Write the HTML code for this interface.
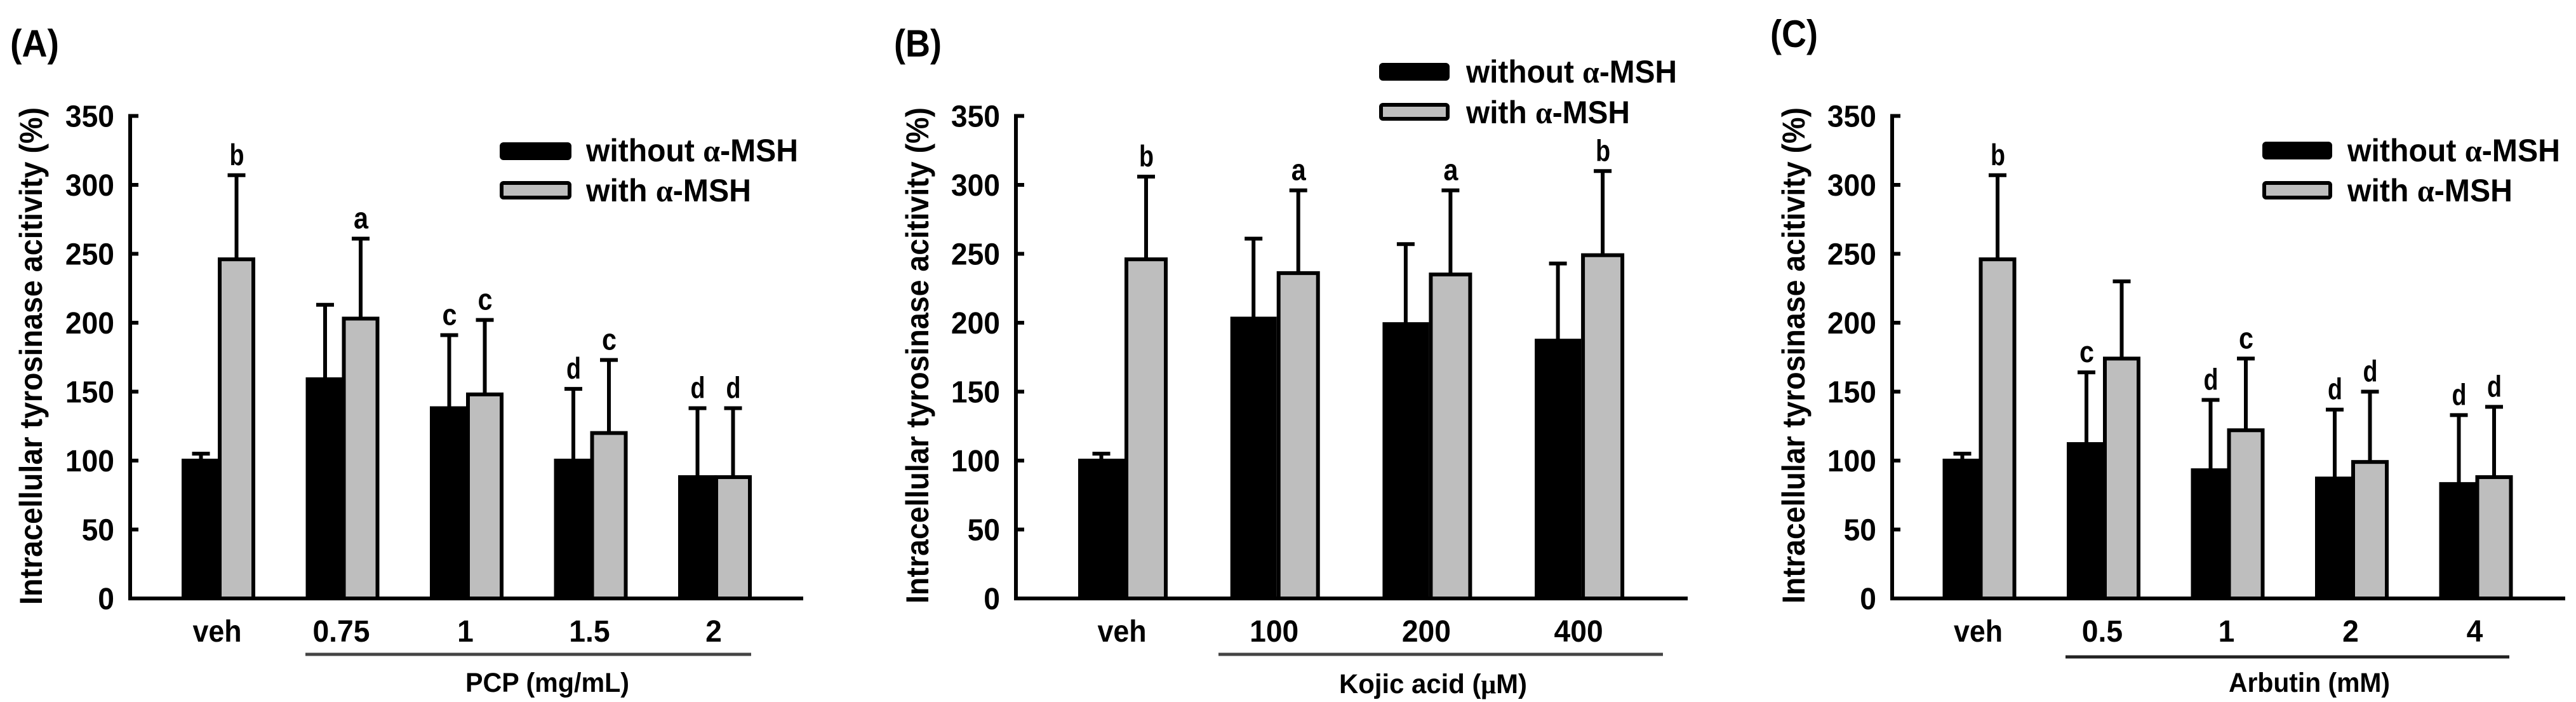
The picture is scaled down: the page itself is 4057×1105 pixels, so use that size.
<!DOCTYPE html>
<html lang="en">
<head>
<meta charset="utf-8">
<title>Intracellular tyrosinase activity panels</title>
<style>
html,body{margin:0;padding:0;background:#fff;width:4057px;height:1105px;overflow:hidden}
svg{display:block}
text{font-family:"Liberation Sans",sans-serif;font-weight:bold;fill:#000}
.serif{font-family:"Liberation Serif",serif}
.leg{font-size:50px}
.ttl{font-size:50px}
.grp{font-size:43px}
.pnl{font-size:60px}
</style>
</head>
<body>
<svg id="figure" xmlns="http://www.w3.org/2000/svg" width="4057" height="1105" viewBox="0 0 4057 1105">

<g id="panel-a">
  <text class="pnl" x="16" y="89" textLength="77" lengthAdjust="spacingAndGlyphs">(A)</text>
  <text class="ttl" transform="translate(66,952) rotate(-90)" textLength="783" lengthAdjust="spacingAndGlyphs">Intracellular tyrosinase acitivity (%)</text>
  <rect x="790" y="227" width="107" height="22" rx="3" fill="#000" stroke="#000" stroke-width="6"/>
  <rect x="790" y="288" width="107" height="23" rx="3" fill="#bebebe" stroke="#000" stroke-width="6"/>
  <text class="leg" x="923" y="254" textLength="334" lengthAdjust="spacingAndGlyphs">without <tspan class="serif">α</tspan>-MSH</text>
  <text class="leg" x="923" y="317" textLength="260" lengthAdjust="spacingAndGlyphs">with <tspan class="serif">α</tspan>-MSH</text>
  <rect x="481" y="1027.5" width="702" height="5" fill="#444"/>
  <text class="grp" x="733" y="1089" textLength="258" lengthAdjust="spacingAndGlyphs">PCP (mg/mL)</text>
</g>

<g id="panel-b">
  <text class="pnl" x="1408" y="89" textLength="75" lengthAdjust="spacingAndGlyphs">(B)</text>
  <text class="ttl" transform="translate(1462,950) rotate(-90)" textLength="781" lengthAdjust="spacingAndGlyphs">Intracellular tyrosinase acitivity (%)</text>
  <rect x="2175" y="102" width="105" height="22" rx="3" fill="#000" stroke="#000" stroke-width="6"/>
  <rect x="2175" y="165" width="105" height="22" rx="3" fill="#bebebe" stroke="#000" stroke-width="6"/>
  <text class="leg" x="2309" y="130" textLength="332" lengthAdjust="spacingAndGlyphs">without <tspan class="serif">α</tspan>-MSH</text>
  <text class="leg" x="2309" y="194" textLength="258" lengthAdjust="spacingAndGlyphs">with <tspan class="serif">α</tspan>-MSH</text>
  <rect x="1919" y="1027.5" width="700" height="5" fill="#444"/>
  <text class="grp" x="2109" y="1091" textLength="296" lengthAdjust="spacingAndGlyphs">Kojic acid (<tspan class="serif">μ</tspan>M)</text>
</g>

<g id="panel-c">
  <text class="pnl" x="2788" y="74" textLength="75" lengthAdjust="spacingAndGlyphs">(C)</text>
  <text class="ttl" transform="translate(2842,950) rotate(-90)" textLength="781" lengthAdjust="spacingAndGlyphs">Intracellular tyrosinase acitivity (%)</text>
  <rect x="3566" y="226" width="104" height="22" rx="3" fill="#000" stroke="#000" stroke-width="6"/>
  <rect x="3566" y="288" width="104" height="23" rx="3" fill="#bebebe" stroke="#000" stroke-width="6"/>
  <text class="leg" x="3697" y="254" textLength="335" lengthAdjust="spacingAndGlyphs">without <tspan class="serif">α</tspan>-MSH</text>
  <text class="leg" x="3697" y="317" textLength="260" lengthAdjust="spacingAndGlyphs">with <tspan class="serif">α</tspan>-MSH</text>
  <rect x="3253" y="1031.5" width="699" height="5" fill="#222"/>
  <text class="grp" x="3510" y="1089" textLength="254" lengthAdjust="spacingAndGlyphs">Arbutin (mM)</text>
</g>
</svg>

<script>
const yTicks = [0, 50, 100, 150, 200, 250, 300, 350];

const aCategories = ['veh', '0.75', '1', '1.5', '2'];
const aWithout = [100, 159, 138, 100, 88];
const aWith = [246, 203, 148, 120, 88];
const aWithoutErr = [105, 213, 191, 152, 138];
const aWithErr = [307, 261, 202, 173, 138];
const aWithoutLetters = ['', '', 'c', 'd', 'd'];
const aWithLetters = ['b', 'a', 'c', 'c', 'd'];

const bCategories = ['veh', '100', '200', '400'];
const bWithout = [100, 203, 199, 187];
const bWith = [246, 236, 235, 249];
const bWithoutErr = [105, 261, 257, 243];
const bWithErr = [306, 296, 296, 310];
const bWithoutLetters = ['', '', '', ''];
const bWithLetters = ['b', 'a', 'a', 'b'];

const cCategories = ['veh', '0.5', '1', '2', '4'];
const cWithout = [100, 112, 93, 87, 83];
const cWith = [246, 174, 122, 99, 88];
const cWithoutErr = [105, 164, 144, 137, 133];
const cWithErr = [307, 230, 174, 150, 139];
const cWithoutLetters = ['', 'c', 'd', 'd', 'd'];
const cWithLetters = ['b', '', 'c', 'd', 'd'];

const NS = 'http://www.w3.org/2000/svg';
const Y_ZERO = 942;
const PX_PER_UNIT = 2.17;

function yScale(v) {
  return Y_ZERO - v * PX_PER_UNIT;
}

function labelWidth(s) {
  let w = 0;
  for (const ch of s) w += ch === '.' ? 13 : 25.7;
  return w;
}

function make(parent, tag, attrs) {
  const el = document.createElementNS(NS, tag);
  for (const k in attrs) el.setAttribute(k, attrs[k]);
  parent.appendChild(el);
  return el;
}

function drawPanel(id, frame, categories, without, withMsh, withoutErr, withErr, withoutLetters, withLetters) {
  const root = document.getElementById(id);
  const xScale = function (i) { return frame.c0 + i * frame.step; };

  categories.forEach(function (cat, i) {
    const c = xScale(i);
    const bx = c + frame.bl + 3;
    const bw = frame.bm - frame.bl - 6;
    const gx = c + frame.gl + 3;
    const gw = frame.gr - frame.gl - 6;
    const bc = bx + bw / 2;
    const gc = gx + gw / 2;

    const e1 = make(root, 'path', {d: 'M' + bc + ' ' + yScale(without[i]) + 'V' + yScale(withoutErr[i]) + 'M' + (bc - 14) + ' ' + yScale(withoutErr[i]) + 'H' + (bc + 14), stroke: '#000', 'stroke-width': 6, fill: 'none'});
    
    

    const e2 = make(root, 'path', {d: 'M' + gc + ' ' + yScale(withMsh[i]) + 'V' + yScale(withErr[i]) + 'M' + (gc - 14) + ' ' + yScale(withErr[i]) + 'H' + (gc + 14), stroke: '#000', 'stroke-width': 6, fill: 'none'});
    
    

    const g = make(root, 'rect', {x: gx, y: yScale(withMsh[i]), width: gw, height: Y_ZERO - yScale(withMsh[i]), fill: '#bebebe', stroke: '#000', 'stroke-width': 6});
    
    

    const b = make(root, 'rect', {x: bx, y: yScale(without[i]), width: bw, height: Y_ZERO - yScale(without[i]), fill: '#000', stroke: '#000', 'stroke-width': 6});
    
    

    if (withoutLetters[i]) {
      const l1 = make(root, 'text', {x: bc - 11, y: yScale(withoutErr[i]) - 16, 'font-size': 47, textLength: 23, lengthAdjust: 'spacingAndGlyphs'});
      l1.textContent = withoutLetters[i];
      
      
    }
    if (withLetters[i]) {
      const l2 = make(root, 'text', {x: gc - 11, y: yScale(withErr[i]) - 16, 'font-size': 47, textLength: 23, lengthAdjust: 'spacingAndGlyphs'});
      l2.textContent = withLetters[i];
      
      
    }

    const tw = labelWidth(cat);
    const t = make(root, 'text', {x: c - 2 - tw / 2, y: 1010, 'font-size': 48, textLength: tw, lengthAdjust: 'spacingAndGlyphs'});
    t.textContent = cat;
    
    
  });

  const yAxis = make(root, 'line', {x1: frame.ax, y1: yScale(350) - 3, x2: frame.ax, y2: Y_ZERO + 3, stroke: '#000', 'stroke-width': 6});
  
  

  const xAxis = make(root, 'line', {x1: frame.ax - 3, y1: Y_ZERO, x2: frame.end, y2: Y_ZERO, stroke: '#000', 'stroke-width': 6});
  
  

  yTicks.forEach(function (v) {
    const tick = make(root, 'line', {x1: frame.ax, y1: yScale(v), x2: frame.ax + 13, y2: yScale(v), stroke: '#000', 'stroke-width': 6});
    
    

    const s = String(v);
    const lw = labelWidth(s);
    const label = make(root, 'text', {x: frame.ax - 25 - lw, y: yScale(v) + 17, 'font-size': 48, textLength: lw, lengthAdjust: 'spacingAndGlyphs'});
    label.textContent = s;
    
    
  });
}

drawPanel('panel-a', {ax: 205, end: 1265, c0: 344, step: 195.5, bl: -58, bm: 3, gl: -1, gr: 58},
  aCategories, aWithout, aWith, aWithoutErr, aWithErr, aWithoutLetters, aWithLetters);
drawPanel('panel-b', {ax: 1600, end: 2658, c0: 1769, step: 239.7, bl: -71, bm: 2, gl: 2, gr: 70},
  bCategories, bWithout, bWith, bWithoutErr, bWithErr, bWithoutLetters, bWithLetters);
drawPanel('panel-c', {ax: 2980, end: 4040, c0: 3117.5, step: 195.5, bl: -58, bm: 4, gl: -1, gr: 58},
  cCategories, cWithout, cWith, cWithoutErr, cWithErr, cWithoutLetters, cWithLetters);
</script>
</body>
</html>
